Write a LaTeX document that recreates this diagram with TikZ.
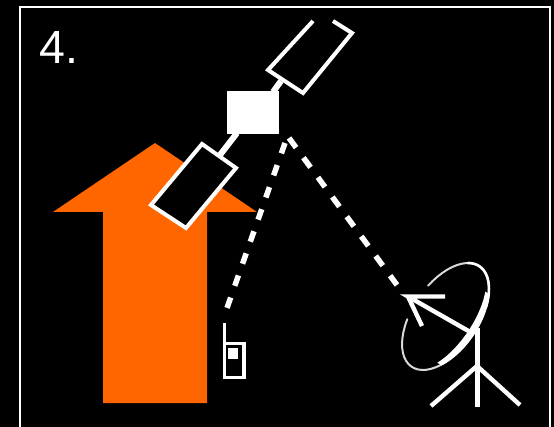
\documentclass[tikz,border=0pt]{standalone}
\usepackage{fontspec}
\setmainfont{Liberation Sans}
\usetikzlibrary{positioning, calc, arrows.meta}
\definecolor{arroworange}{RGB}{255,102,0}
\tikzset{
    panel/.style={draw=white, line width=4pt, line join=miter, fill=black},
    strut/.style={draw=white, line width=6pt},
    beam/.style={draw=white, line width=5.5pt},
    stick/.style={draw=white, line width=4.4pt},
    dishrim/.style={draw=white, domain=#1, samples=50, line join=round, line cap=round}
}
\newcommand{\dishx}[1]{(445.5+60.6*cos(\x)*cos(56)+#1*sin(\x)*sin(56))}
\newcommand{\dishy}[1]{(316.5-60.6*cos(\x)*sin(56)+#1*sin(\x)*cos(56))}
\begin{document}
\begin{tikzpicture}[x=1pt, y=-1pt, >=stealth]
    % --- BACKGROUND & FRAME ---
    \useasboundingbox (0,0) rectangle (554,427);
    \fill[black] (0,0) rectangle (554,427);
    \draw[white, line width=2pt] (20,427) -- (20,7) -- (550,7) -- (550,427);
    \node[white, font=\fontsize{46.5}{46.5}\selectfont, anchor=base west, inner sep=0pt] (number) at (39,63.5) {4.};

    % Orange arrow
    \fill[arroworange] (155,143) -- (257,212) -- (207,212) -- (207,403) -- (103,403) -- (103,212) -- (53,212) -- cycle;

    % --- SATELLITE ---
    \node[fill=white, minimum width=52pt, minimum height=43pt, inner sep=0pt] (sat) at (253,112.5) {};
    \coordinate (lowerjoint) at (220,155);
    \coordinate (upperjoint) at (281,81);
    \draw[strut] (237,133) -- (lowerjoint);
    \draw[strut] (273,92) -- (upperjoint);
    % Solar panels, the upper one runs off the top
    \draw[panel] (202,144) -- (236,168) -- (186,228) -- (151,205) -- cycle;
    \draw[draw=white, line width=4pt] (313,21) -- (268,70) -- (303,93) -- (352,33) -- (333,21);

    % --- LINKS ---
    \coordinate (phonelink) at (227,308);
    \coordinate (dishlink) at (397,285);
    \draw[beam, dash pattern=on 11pt off 12.4pt] (285,143) -- (phonelink);
    \draw[beam, dash pattern=on 12pt off 12.4pt] (289,138) -- (dishlink);

    % --- PHONE ---
    \draw[white, line width=3.6pt] (224.5,323) -- (224.5,377.5) -- (244,377.5) -- (244,343.5) -- (224.5,343.5);
    \node[fill=white, minimum width=10pt, minimum height=11pt, inner sep=0pt] (keypad) at (233,353.5) {};

    % --- DISH ---
    \draw[dishrim={285:607}, line width=2pt, white!85!black] plot ({\dishx{32.8}}, {\dishy{32.8}});
    \draw[dishrim={-20:60}, line width=2.6pt] plot ({\dishx{32.8}}, {\dishy{32.8}});
    % thick part of the rim
    \fill[white, domain=45:135, samples=40] plot ({\dishx{34}}, {\dishy{34}}) -- plot[domain=135:45] ({\dishx{27}}, {\dishy{27}}) -- cycle;
    \coordinate (dishhub) at (472,333);
    \coordinate (feed) at (408,296.5);
    \coordinate (fork) at (477,366);
    \draw[stick, line join=miter] (dishhub) -- (feed) -- (445,296.5);
    \draw[stick] (feed) -- (422,326);
    \draw[stick, line width=5pt] (477,328) -- (477,407);
    \draw[stick] (fork) -- (431,406);
    \draw[stick] (fork) -- (520,405);
\end{tikzpicture}
\end{document}
